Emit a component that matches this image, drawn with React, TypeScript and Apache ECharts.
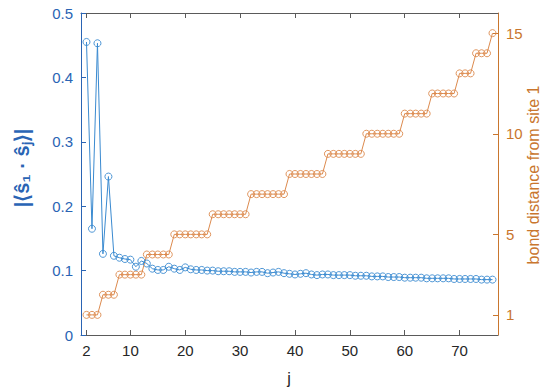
import React, { useEffect, useRef } from "react";
import * as echarts from "echarts";

const jValues = [2,3,4,5,6,7,8,9,10,11,12,13,14,15,16,17,18,19,20,21,22,23,24,25,26,27,28,29,30,31,32,33,34,35,36,37,38,39,40,41,42,43,44,45,46,47,48,49,50,51,52,53,54,55,56,57,58,59,60,61,62,63,64,65,66,67,68,69,70,71,72,73,74,75,76];

const correlation = [0.455,0.165,0.453,0.126,0.246,0.123,0.120,0.118,0.117,0.106,0.115,0.111,0.103,0.101,0.101,0.106,0.103,0.101,0.105,0.102,0.101,0.101,0.100,0.100,0.099,0.099,0.099,0.098,0.098,0.098,0.097,0.098,0.098,0.096,0.097,0.098,0.096,0.095,0.094,0.095,0.096,0.094,0.093,0.094,0.094,0.093,0.093,0.093,0.093,0.092,0.092,0.092,0.091,0.091,0.091,0.090,0.090,0.090,0.089,0.089,0.089,0.089,0.088,0.088,0.088,0.088,0.088,0.087,0.087,0.087,0.087,0.087,0.086,0.086,0.086];

const bondDistance = [1,1,1,2,2,2,3,3,3,3,3,4,4,4,4,4,5,5,5,5,5,5,5,6,6,6,6,6,6,6,7,7,7,7,7,7,7,8,8,8,8,8,8,8,9,9,9,9,9,9,9,10,10,10,10,10,10,10,11,11,11,11,11,12,12,12,12,12,13,13,13,14,14,14,15];

const xTicks = [2,10,20,30,40,50,60,70];
const rightTicks = [1,5,10,15];

const BLUE_LINE = "#3a8ad0";
const BLUE_AXIS = "#2a64b4";
const ORANGE_LINE = "#dc8a4e";
const ORANGE_AXIS = "#c9762e";
const FONT = "Liberation Sans, Arial, sans-serif";

export default function App() {
  const ref = useRef<HTMLDivElement>(null);
  useEffect(() => {
    if (!ref.current) return;
    const chart = echarts.init(ref.current, undefined, { renderer: "svg" });
    const blueData = jValues.map((j, i) => [j, correlation[i]]);
    const orangeData = jValues.map((j, i) => [j, bondDistance[i]]);
    chart.setOption({
      animation: false,
      backgroundColor: "#ffffff",
      grid: { left: 81, right: 52, top: 13, bottom: 56, containLabel: false },
      xAxis: [
        {
          type: "value",
          min: 1,
          max: 77,
          position: "bottom",
          axisLine: { show: true, lineStyle: { color: "#5a5a5a", width: 1 } },
          axisTick: { show: true, inside: true, length: 5, customValues: xTicks, lineStyle: { color: "#5a5a5a" } },
          axisLabel: { customValues: xTicks, color: "#262626", fontSize: 15, fontFamily: FONT, margin: 8 },
          splitLine: { show: false },
        },
        {
          type: "value",
          min: 1,
          max: 77,
          position: "top",
          axisLine: { show: true, onZero: false, lineStyle: { color: "#5a5a5a", width: 1 } },
          axisTick: { show: true, inside: true, length: 5, customValues: xTicks, lineStyle: { color: "#5a5a5a" } },
          axisLabel: { show: false },
          splitLine: { show: false },
        },
      ],
      yAxis: [
        {
          type: "value",
          min: 0,
          max: 0.5,
          interval: 0.1,
          position: "left",
          axisLine: { show: true, lineStyle: { color: BLUE_AXIS, width: 1 } },
          axisTick: { show: true, inside: true, length: 5, lineStyle: { color: BLUE_AXIS } },
          axisLabel: { color: BLUE_AXIS, fontSize: 15, fontFamily: FONT, margin: 8 },
          splitLine: { show: false },
        },
        {
          type: "value",
          min: 0,
          max: 16,
          position: "right",
          axisLine: { show: true, lineStyle: { color: ORANGE_AXIS, width: 1 } },
          axisTick: { show: true, inside: true, length: 5, customValues: rightTicks, lineStyle: { color: ORANGE_AXIS } },
          axisLabel: { customValues: rightTicks, color: ORANGE_AXIS, fontSize: 15, fontFamily: FONT, margin: 8 },
          splitLine: { show: false },
        },
      ],
      series: [
        {
          type: "line",
          name: "bond",
          xAxisIndex: 0,
          yAxisIndex: 1,
          data: orangeData,
          symbol: "circle",
          symbolSize: 7,
          lineStyle: { color: ORANGE_LINE, width: 1 },
          itemStyle: { color: "rgba(255,255,255,0)", borderColor: ORANGE_LINE, borderWidth: 0.9 },
        },
        {
          type: "line",
          name: "corr",
          xAxisIndex: 0,
          yAxisIndex: 0,
          data: blueData,
          symbol: "circle",
          symbolSize: 7,
          lineStyle: { color: BLUE_LINE, width: 1 },
          itemStyle: { color: "rgba(255,255,255,0)", borderColor: BLUE_LINE, borderWidth: 0.9 },
        },
      ],
      graphic: [
        {
          type: "text",
          x: 289,
          y: 378,
          style: { text: "j", fill: "#262626", fontSize: 16, fontFamily: FONT, align: "center", verticalAlign: "middle" },
        },
        {
          type: "text",
          x: 22,
          y: 168,
          rotation: Math.PI / 2,
          style: { text: "|⟨ŝ₁ · ŝⱼ⟩|", fill: BLUE_AXIS, fontSize: 20, fontWeight: "bold", fontFamily: FONT, align: "center", verticalAlign: "middle" },
        },
        {
          type: "text",
          x: 533,
          y: 175,
          rotation: Math.PI / 2,
          style: { text: "bond distance from site 1", fill: ORANGE_AXIS, fontSize: 16, fontFamily: FONT, align: "center", verticalAlign: "middle" },
        },
      ],
    });
    return () => chart.dispose();
  }, []);
  return <div ref={ref} style={{ width: 550, height: 391, position: "absolute", left: 0, top: 0 }} />;
}
